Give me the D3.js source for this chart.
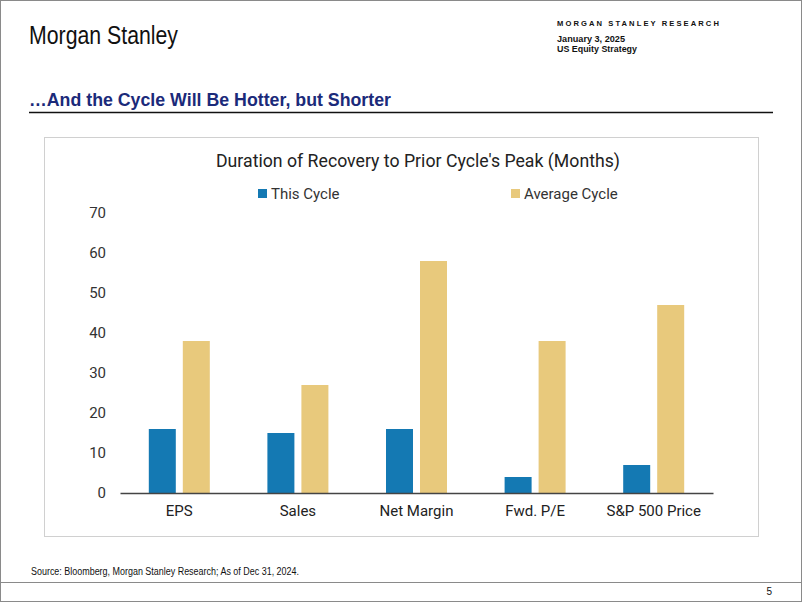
<!DOCTYPE html>
<html><head><meta charset="utf-8">
<script src="https://cdn.jsdelivr.net/npm/d3@7"></script>
<style>body{margin:0;background:#fff}svg{display:block}</style>
</head><body>
<svg id="c" width="802" height="602"></svg>
<script>
const categories = ["EPS","Sales","Net Margin","Fwd. P/E","S&P 500 Price"];
const thisCycle = [16,15,16,4,7];
const averageCycle = [38,27,58,38,47];
const seriesNames = ["This Cycle","Average Cycle"];
const yTicks = [0,10,20,30,40,50,60,70];

const colors = ["#1479B3","#E8C97C"];
const svg = d3.select("#c");
const W=802,H=602;
const sans = "'Liberation Sans',Arial,sans-serif";
function txt(x,y,s,size,opts={}){
  const t = svg.append("text").attr("x",x).attr("y",y).attr("font-family",opts.family||sans)
    .attr("font-size",size).attr("fill",opts.fill||"#111").text(s);
  if(opts.bold) t.attr("font-weight","bold");
  if(opts.ls) t.attr("letter-spacing",opts.ls);
  if(opts.len) t.attr("textLength",opts.len).attr("lengthAdjust","spacingAndGlyphs");
  if(opts.anchor) t.attr("text-anchor",opts.anchor);
  return t;
}
// page frame
svg.append("rect").attr("x",0.5).attr("y",0.5).attr("width",W-1).attr("height",H-1).attr("fill","#fff").attr("stroke","#8a8a8a");
// header
txt(29,44,"Morgan Stanley",25,{len:149,fill:"#111"});
txt(557,26,"MORGAN STANLEY RESEARCH",8,{bold:true,ls:2.2,len:164});
txt(557,42,"January 3, 2025",9.5,{bold:true,len:68});
txt(557,52,"US Equity Strategy",9.5,{bold:true,len:80});
txt(29,106,"…And the Cycle Will Be Hotter, but Shorter",19,{bold:true,fill:"#1B2A7A",len:362});
svg.append("line").attr("x1",29).attr("x2",773).attr("y1",112.5).attr("y2",112.5).attr("stroke","#111").attr("stroke-width",1.5);
// chart box
svg.append("rect").attr("x",44.5).attr("y",137.5).attr("width",714).attr("height",399).attr("fill","#fff").attr("stroke","#d0d0d0");
svg.append("text").attr("x",418).attr("y",167).attr("text-anchor","middle").attr("font-family","Roboto,sans-serif").attr("font-size",18).attr("fill","#222").attr("textLength",404).attr("lengthAdjust","spacingAndGlyphs").text("Duration of Recovery to Prior Cycle's Peak (Months)");
// legend
const legX=[258,511];
seriesNames.forEach((n,i)=>{
  svg.append("rect").attr("x",legX[i]).attr("y",189).attr("width",9).attr("height",9).attr("fill",colors[i]);
  svg.append("text").attr("x",legX[i]+13).attr("y",198.5).attr("font-family","Roboto,sans-serif").attr("font-size",15).attr("fill","#333").text(n);
});
// scales
const x = d3.scaleBand().domain(categories).range([120,713]).paddingInner(0).paddingOuter(0);
const y = d3.scaleLinear().domain([0,70]).range([493,213]);
const barW=27, gap=7;
const g=svg.append("g");
categories.forEach((c,i)=>{
  const cx = x(c)+x.bandwidth()/2;
  [thisCycle[i],averageCycle[i]].forEach((v,j)=>{
    const bx = j===0 ? cx-gap/2-barW : cx+gap/2;
    g.append("rect").attr("x",bx).attr("y",y(v)).attr("width",barW).attr("height",y(0)-y(v)).attr("fill",colors[j]);
  });
});
// axes
const ya = svg.append("g").attr("transform","translate(106,0)").call(d3.axisLeft(y).tickValues(yTicks).tickSize(0).tickPadding(0));
ya.select(".domain").remove();
ya.selectAll("text").attr("font-family","Roboto,sans-serif").attr("font-size",15).attr("fill","#333").attr("text-anchor","end");
const xa = svg.append("g").attr("transform","translate(0,493)").call(d3.axisBottom(x).tickSize(0).tickPadding(12));
xa.select(".domain").attr("stroke","#444").attr("stroke-width",1.5);
xa.selectAll("text").attr("font-family","Roboto,sans-serif").attr("font-size",15).attr("fill","#222").attr("dy","0.71em");
// footer
txt(31,575,"Source: Bloomberg, Morgan Stanley Research; As of Dec 31, 2024.",10,{len:268});
svg.append("line").attr("x1",0).attr("x2",W).attr("y1",582.5).attr("y2",582.5).attr("stroke","#8a8a8a");
txt(772,595,"5",10,{anchor:"end"});
</script>
</body></html>
